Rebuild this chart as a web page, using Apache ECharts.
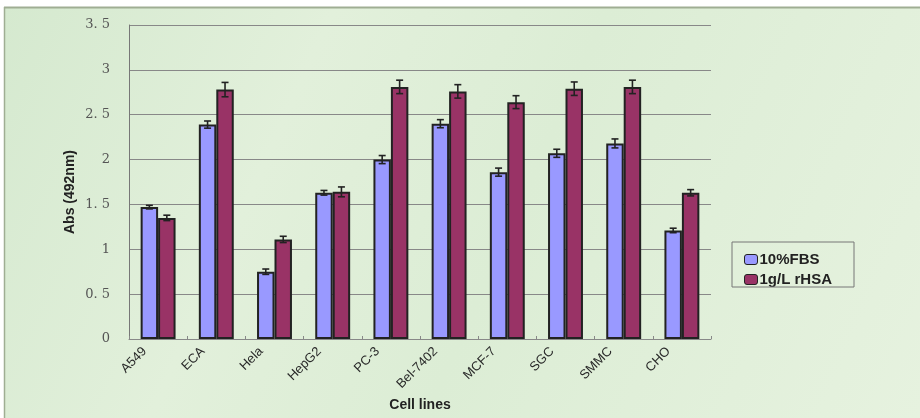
<!DOCTYPE html>
<html><head><meta charset="utf-8">
<script src="https://cdn.jsdelivr.net/npm/echarts@6/dist/echarts.min.js"></script>
<style>html,body{margin:0;padding:0;background:#fff;}#c{width:920px;height:418px;}</style>
</head><body><div id="c"></div>
<script>
const categories = ['A549','ECA','Hela','HepG2','PC-3','Bel-7402','MCF-7','SGC','SMMC','CHO'];
const fbs = [1.47,2.39,0.75,1.63,2.00,2.40,1.86,2.07,2.18,1.21];
const fbsErr = [0.02,0.04,0.03,0.026,0.045,0.045,0.045,0.045,0.05,0.025];
const rhsa = [1.35,2.78,1.11,1.64,2.81,2.76,2.64,2.79,2.81,1.63];
const rhsaErr = [0.03,0.08,0.035,0.055,0.075,0.075,0.072,0.075,0.075,0.035];
const seriesNames = ['10%FBS','1g/L rHSA'];
const yTicks = [0,0.5,1,1.5,2,2.5,3,3.5];

const chart = echarts.init(document.getElementById('c'));

function errSeries(vals, errs, side){
  return {
    type:'custom', silent:true, z:10,
    data: vals.map((v,i)=>[i, v, errs[i]]),
    encode:{x:0,y:1},
    renderItem:function(params, api){
      const i = api.value(0), v = api.value(1), e = api.value(2);
      const band = api.size([1,0])[0];
      const x = api.coord([i, v])[0] + side*band*0.15;
      const yH = api.coord([i, v+e])[1];
      const yL = api.coord([i, v-e])[1];
      const hw = 3.5;
      const st = {stroke:'#222', lineWidth:1.6};
      return {type:'group', children:[
        {type:'line', shape:{x1:x,y1:yH,x2:x,y2:yL}, style:st},
        {type:'line', shape:{x1:x-hw,y1:yH,x2:x+hw,y2:yH}, style:st},
        {type:'line', shape:{x1:x-hw,y1:yL,x2:x+hw,y2:yL}, style:st}
      ]};
    }
  };
}

chart.setOption({
  animation:false,
  backgroundColor:'#ffffff',
  graphic:[
    {type:'rect', z:-10, shape:{x:4,y:7,width:916,height:411},
     style:{fill:new echarts.graphic.LinearGradient(0,0,1,1,[
       {offset:0,color:'#d5e9cf'},{offset:0.3,color:'#e2f0db'},
       {offset:0.55,color:'#dcedd5'},{offset:1,color:'#e6f2df'}])}},
    {type:'line', z:-5, shape:{x1:4,y1:7.5,x2:920,y2:7.5}, style:{stroke:'#9fae93', lineWidth:2}},
    {type:'line', z:-5, shape:{x1:4.5,y1:7,x2:4.5,y2:418}, style:{stroke:'#9fae93', lineWidth:1.5}},
    {type:'rect', z:20, shape:{x:732,y:242,width:122,height:45},
     style:{fill:'rgba(0,0,0,0)', stroke:'#777', lineWidth:1}}
  ],
  legend:{
    orient:'vertical', left:739, top:247, itemGap:5,
    itemWidth:13, itemHeight:10, selectedMode:false,
    data:seriesNames,
    textStyle:{fontFamily:'Liberation Sans, Arial, sans-serif', fontWeight:'bold', fontSize:15, color:'#222', padding:[0,0,0,-3]},
    itemStyle:{borderColor:'#222', borderWidth:1}
  },
  grid:{left:129, right:209, top:25, bottom:79, outerBoundsMode:'none', containLabel:false},
  xAxis:{
    type:'category', data:categories,
    name:'Cell lines', nameLocation:'middle', nameGap:59, nameMoveOverlap:false,
    nameTextStyle:{fontFamily:'Liberation Sans, Arial, sans-serif', fontWeight:'bold', fontSize:14, color:'#222'},
    axisLine:{lineStyle:{color:'#888', width:1}},
    axisTick:{show:true, inside:true, length:3, lineStyle:{color:'#888'}},
    axisLabel:{rotate:45, fontFamily:'Liberation Sans, Arial, sans-serif', fontSize:13, color:'#2a2a2a', margin:-3,
      padding:[0,19,8,0]}
  },
  yAxis:{
    type:'value', min:0, max:3.5, interval:0.5,
    name:'Abs (492nm)', nameLocation:'middle', nameGap:52, nameRotate:90, nameMoveOverlap:false,
    nameTextStyle:{fontFamily:'Liberation Sans, Arial, sans-serif', fontWeight:'bold', fontSize:14, color:'#222',
      padding:[0,20,0,0]},
    axisLine:{show:true, lineStyle:{color:'#777', width:1}},
    axisTick:{show:false},
    splitLine:{lineStyle:{color:'#888', width:1}},
    axisLabel:{
      fontFamily:'DejaVu Serif, Liberation Serif, serif', fontSize:13, color:'#555', margin:19,
      formatter:function(v){ const t = yTicks.find(x=>Math.abs(x-v)<1e-9); return String(t).replace('.', '. '); }
    }
  },
  series:[
    {name:seriesNames[0], type:'bar', data:fbs, barGap:'0%', barCategoryGap:'40%',
     itemStyle:{color:'#9999ff', borderColor:'#222', borderWidth:2}},
    {name:seriesNames[1], type:'bar', data:rhsa, barGap:'0%', barCategoryGap:'40%',
     itemStyle:{color:'#993366', borderColor:'#222', borderWidth:2}},
    errSeries(fbs, fbsErr, -1),
    errSeries(rhsa, rhsaErr, 1)
  ]
});
</script></body></html>
